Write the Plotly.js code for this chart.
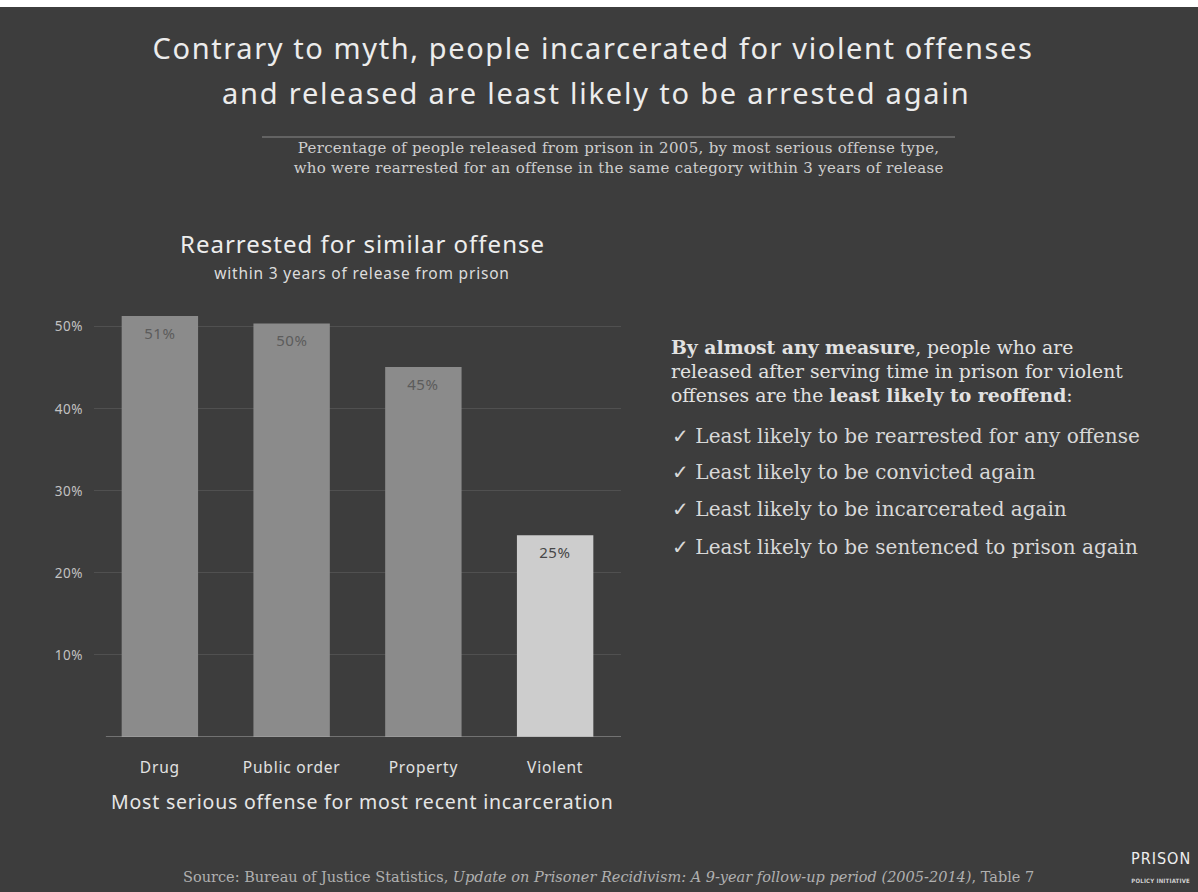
<!DOCTYPE html>
<html>
<head>
<meta charset="utf-8">
<script src="https://cdn.plot.ly/plotly-3.0.1.min.js"></script>
<style>
html,body{margin:0;padding:0;background:#ffffff;}
#chart{width:1198px;height:892px;}
</style>
</head>
<body>
<div id="chart"></div>
<script>
// ---- data ----
const categories = ["Drug", "Public order", "Property", "Violent"];
const rearrestPct = [51.3, 50.4, 45.1, 24.6];
const yTickValues = [10, 20, 30, 40, 50];
const yTickLabels = ["10%", "20%", "30%", "40%", "50%"];

const titleLines = [
  "Contrary to myth, people incarcerated for violent offenses",
  "and released are least likely to be arrested again"
];
const subtitleLines = [
  "Percentage of people released from prison in 2005, by most serious offense type,",
  "who were rearrested for an offense in the same category within 3 years of release"
];
const chartHeading = "Rearrested for similar offense";
const chartSubheading = "within 3 years of release from prison";
const xAxisTitle = "Most serious offense for most recent incarceration";
const sideLines = [
  "<b>By almost any measure</b>, people who are",
  "released after serving time in prison for violent",
  "offenses are the <b>least likely to reoffend</b>:"
];
const bulletLines = [
  "Least likely to be rearrested for any offense",
  "Least likely to be convicted again",
  "Least likely to be incarcerated again",
  "Least likely to be sentenced to prison again"
];
const sourceText = "Source: Bureau of Justice Statistics, <i>Update on Prisoner Recidivism: A 9-year follow-up period (2005-2014)</i>, Table 7";

// ---- layout geometry ----
const W = 1198, H = 892;
const L = 94, R = 621, T = 298, B = 737;
const BG = "#3d3d3d";
const SANS = "Noto Sans, Lato, sans-serif";
const SERIF = "DejaVu Serif, Liberation Serif, serif";
const NARROW = "Liberation Sans Narrow, DejaVu Sans Condensed, Noto Sans, sans-serif";

function px(x) { return (x - L) / (R - L); }
function py(y) { return (B - y) / (B - T); }
const spacing = [];   // letter-spacing per annotation index
function ann(text, x, y, size, color, family, xanchor, ls) {
  spacing.push(ls || 0);
  return {
    text: text, xref: "paper", yref: "paper", x: px(x), y: py(y),
    xanchor: xanchor || "center", yanchor: "middle", showarrow: false,
    font: {size: size, color: color, family: family}
  };
}

const barColors = categories.map((c, i) => i === 3 ? "#cdcdcd" : "#8b8b8b");
const labelColors = categories.map((c, i) => i === 3 ? "#474747" : "#5c5c5c");

const trace = {
  type: "bar",
  x: categories,
  y: rearrestPct,
  marker: {color: barColors, line: {width: 0}},
  hoverinfo: "skip"
};

const annotations = [];
annotations.push(ann(titleLines[0], 593, 48, 29, "#ececec", SANS, "center", 1.6));
annotations.push(ann(titleLines[1], 596, 92, 29, "#ececec", SANS, "center", 1.8));
annotations.push(ann(subtitleLines[0], 618, 148, 15, "#cfcfcf", SERIF, "center", 0.3));
annotations.push(ann(subtitleLines[1], 618, 168, 15, "#cfcfcf", SERIF, "center", 0.3));
annotations.push(ann(chartHeading, 362, 243, 24, "#ededed", SANS, "center", 1));
annotations.push(ann(chartSubheading, 362, 273, 15.5, "#dcdcdc", SANS, "center", 0.8));
annotations.push(ann(xAxisTitle, 362, 801, 19.5, "#e6e6e6", SANS, "center", 0.8));
const sideY = [347, 371, 395];
sideLines.forEach((t, i) => annotations.push(ann(t, 669, sideY[i], 18.8, "#e2e2e2", SERIF, "left")));
const bulletY = [436, 472, 509, 547];
bulletLines.forEach((t, i) => annotations.push(ann("✓ " + t, 670, bulletY[i], 20, "#d8d8d8", SERIF, "left")));
annotations.push(ann(sourceText, 608, 877, 14.5, "#b0b0b0", SERIF));
annotations.push(ann("PRISON", 1161, 858, 16, "#eeeeee", NARROW, "center", 1));
annotations.push(ann("<b>POLICY INITIATIVE</b>", 1161, 880, 6, "#d0d0d0", NARROW, "center", 0.2));
// value labels from data
categories.forEach((c, i) => {
  spacing.push(0.5);
  annotations.push({
    text: Math.round(rearrestPct[i]) + "%", xref: "x", yref: "y", x: c, y: rearrestPct[i],
    yanchor: "middle", xanchor: "center", yshift: -17, showarrow: false,
    font: {size: 15, color: labelColors[i], family: SANS}
  });
});

const shapes = [
  {type: "rect", xref: "paper", yref: "paper", x0: px(0), x1: px(W), y0: py(7), y1: py(0),
   fillcolor: "#ffffff", line: {width: 0}, layer: "above"},
  {type: "line", xref: "paper", yref: "paper", x0: px(262), x1: px(955), y0: py(137), y1: py(137),
   line: {color: "#8a8a8a", width: 1}},
  {type: "line", xref: "x", yref: "y", x0: -0.41, x1: 3.5, y0: 0, y1: 0,
   line: {color: "#a8a8a8", width: 1}, layer: "above"}
];

const layout = {
  width: W, height: H,
  margin: {l: L, r: W - R, t: T, b: H - B, pad: 0},
  paper_bgcolor: BG,
  plot_bgcolor: BG,
  showlegend: false,
  bargap: 0.42,
  xaxis: {
    type: "category",
    range: [-0.5, 3.5],
    showgrid: false, zeroline: false, showline: false,
    ticks: "", ticklabelstandoff: 19,
    tickfont: {size: 15.5, color: "#e2e2e2", family: SANS},
    fixedrange: true
  },
  yaxis: {
    range: [0, 53.5],
    tickvals: yTickValues, ticktext: yTickLabels,
    showgrid: true, gridcolor: "rgba(255,255,255,0.10)", gridwidth: 1,
    zeroline: false, showline: false, ticks: "",
    ticklabelstandoff: 10,
    tickfont: {size: 13.5, color: "#c2c2c2", family: SANS},
    fixedrange: true
  },
  annotations: annotations,
  shapes: shapes,
  font: {family: SANS}
};

Plotly.newPlot("chart", [trace], layout, {staticPlot: true, displayModeBar: false}).then(function (gd) {
  spacing.forEach(function (ls, i) {
    if (!ls) return;
    const t = gd.querySelector('.annotation[data-index="' + i + '"] text');
    if (t) t.style.letterSpacing = ls + "px";
  });
  gd.querySelectorAll(".xtick text").forEach(function (t) { t.style.letterSpacing = "0.8px"; });
  gd.querySelectorAll(".ytick text").forEach(function (t) { t.style.letterSpacing = "0.5px"; });
});
</script>
</body>
</html>
